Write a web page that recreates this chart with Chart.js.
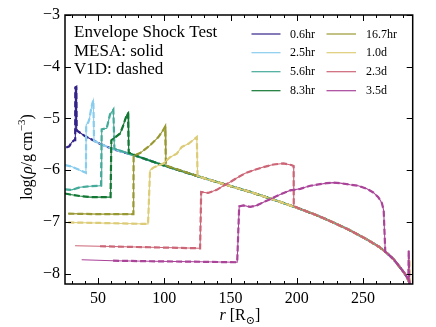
<!DOCTYPE html>
<html>
<head>
<meta charset="utf-8">
<script src="https://cdn.jsdelivr.net/npm/chart.js@4.4.1/dist/chart.umd.min.js"></script>
<style>
  html, body { margin: 0; padding: 0; background: #ffffff; }
  #c { display: block; }
</style>
</head>
<body>
<canvas id="c" width="436" height="327"></canvas>
<script>
// ---------------- DATA ----------------
const SERIES_LABELS = ["0.6hr", "2.5hr", "5.6hr", "8.3hr", "16.7hr", "1.0d", "2.3d", "3.5d"];
const SERIES_COLORS = ["#332288", "#88CCEE", "#44AA99", "#117733", "#999933", "#DDCC77", "#CC6677", "#AA4499"];

// undisturbed envelope (shared outer profile)
const BG_R = [33, 40, 51.4, 62, 73, 81.7, 101, 127, 145, 164.8, 185, 202.6, 215, 227.5, 240, 253, 262, 268, 273, 278, 281, 283, 284.5, 285.5];
const BG_L = [-5.25, -5.34, -5.49, -5.60, -5.68, -5.75, -5.92, -6.13, -6.27, -6.42, -6.59, -6.75, -6.87, -7.01, -7.16, -7.34, -7.48, -7.60, -7.72, -7.88, -7.98, -8.06, -8.14, -8.22];

// inner (disturbed) part of each snapshot
const R_06H = [26, 28.2, 30.1, 32.0, 32.7, 32.8, 33.5, 33.8];
const L_06H = [-5.56, -5.54, -5.46, -5.42, -5.42, -4.40, -4.39, -5.23];

const R_25H = [25, 30, 33.8, 37, 40.8, 41.0, 42.5, 43.5, 44.5, 45.5, 46.4, 46.9];
const L_25H = [-5.90, -5.93, -5.97, -6.01, -6.05, -5.12, -5.08, -5.00, -4.85, -4.72, -4.65, -5.43];

const R_56H = [25, 30.1, 36.3, 43.9, 52.2, 52.7, 56.5, 59.0, 61.5, 62.3];
const L_56H = [-6.37, -6.38, -6.33, -6.31, -6.30, -5.21, -5.19, -4.92, -4.83, -5.58];

const R_83H = [25, 28.8, 36.3, 43.9, 52.7, 59.4, 60.0, 61.5, 64.1, 66.6, 68.8, 70.3, 71.8, 72.6, 73.1];
const L_83H = [-6.45, -6.47, -6.50, -6.52, -6.52, -6.52, -5.42, -5.39, -5.34, -5.29, -5.15, -5.03, -4.92, -4.90, -5.66];

const R_167H = [27.5, 51.4, 76.6, 76.8, 81.7, 89.2, 95.5, 99.0, 100.6, 101.2];
const L_167H = [-6.84, -6.85, -6.85, -5.72, -5.67, -5.52, -5.36, -5.23, -5.16, -5.91];

const R_10D = [27.5, 51.4, 87.7, 89.2, 91.7, 95.5, 99.3, 104.3, 109.4, 113.2, 118.2, 124.5, 125.1];
const L_10D = [-7.01, -7.02, -7.04, -6.00, -5.95, -5.91, -5.87, -5.75, -5.68, -5.55, -5.49, -5.36, -6.11];

const R_23D = [32.6, 51.4, 89.2, 127.0, 127.8, 133.0, 139.6, 144.6, 149.7, 154.7, 161.0, 167.3, 174.8, 182.4, 189.9, 195.8, 197.6, 197.7];
const L_23D = [-7.46, -7.47, -7.49, -7.51, -6.42, -6.44, -6.38, -6.30, -6.23, -6.15, -6.06, -6.00, -5.94, -5.89, -5.87, -5.90, -5.92, -6.69];

const R_35D = [37.6, 61.3, 89.2, 127.0, 155.0, 156.5, 159.7, 164.8, 169.8, 174.8, 179.9, 187.4, 195.0, 202.6, 210.1, 215.2, 222.7, 227.7, 232.8, 240.3, 246.4, 252.9, 257.7, 261.5, 264.3, 265.6, 266.8];
const L_35D = [-7.73, -7.75, -7.76, -7.77, -7.78, -6.70, -6.68, -6.71, -6.68, -6.62, -6.56, -6.47, -6.39, -6.36, -6.30, -6.28, -6.25, -6.24, -6.25, -6.28, -6.30, -6.36, -6.43, -6.52, -6.64, -6.78, -7.58];

// small spikes at the surface
const SPIKE_35D_R = [284.2, 284.5, 284.8, 285.5];
const SPIKE_35D_L = [-8.10, -7.55, -8.12, -8.22];
const SPIKE_10D_R = [284.8, 285.1, 285.5];
const SPIKE_10D_L = [-8.12, -7.72, -8.22];

// where the V1D (dashed) curves begin, r in Rsun
const V1D_START = [0, 0, 0, 0, 0, 0, 51.4, 61.3];

const X_TICKS = [50, 100, 150, 200, 250];
const X_MINOR = [30, 40, 60, 70, 80, 90, 110, 120, 130, 140, 160, 170, 180, 190, 210, 220, 230, 240, 260, 270, 280];
const Y_TICKS = [-8, -7, -6, -5, -4, -3];
const X_MIN = 25, X_MAX = 287.5, Y_MIN = -8.2, Y_MAX = -3;

// ---------------- build point lists ----------------
function pts(R, L) { return R.map((r, i) => ({ x: r, y: L[i] })); }
function withBg(R, L, spikeR, spikeL) {
  const own = pts(R, L);
  const last = R[R.length - 1];
  let bg = pts(BG_R, BG_L).filter(p => p.x > last);
  if (spikeR) {
    bg = bg.filter(p => p.x < spikeR[0]).concat(pts(spikeR, spikeL));
  }
  return own.concat(bg);
}
const SERIES_POINTS = [
  withBg(R_06H, L_06H),
  withBg(R_25H, L_25H),
  withBg(R_56H, L_56H),
  withBg(R_83H, L_83H),
  withBg(R_167H, L_167H),
  withBg(R_10D, L_10D, SPIKE_10D_R, SPIKE_10D_L),
  withBg(R_23D, L_23D),
  withBg(R_35D, L_35D, SPIKE_35D_R, SPIKE_35D_L)
];

const datasets = [];
SERIES_POINTS.forEach((p, i) => {
  datasets.push({
    label: SERIES_LABELS[i] + " MESA", data: p, showLine: true, pointRadius: 0,
    borderColor: SERIES_COLORS[i], borderWidth: 1.1, tension: 0, order: 100 - 2 * i
  });
  datasets.push({
    label: SERIES_LABELS[i] + " V1D", data: p.filter(q => q.x >= V1D_START[i]), showLine: true, pointRadius: 0,
    borderColor: SERIES_COLORS[i], borderWidth: 2.2, borderDash: [6, 3], tension: 0, order: 99 - 2 * i
  });
});

const SERIF = "'Liberation Serif', 'DejaVu Serif', serif";

const decorPlugin = {
  id: 'decor',
  afterDraw(chart) {
    const ctx = chart.ctx;
    const a = chart.chartArea;
    const xs = chart.scales.x, ys = chart.scales.y;
    ctx.save();
    ctx.strokeStyle = '#000';
    // ticks (inward)
    ctx.lineWidth = 1;
    ctx.beginPath();
    X_TICKS.forEach(v => {
      const px = Math.round(xs.getPixelForValue(v)) + 0.5;
      ctx.moveTo(px, a.bottom); ctx.lineTo(px, a.bottom - 6);
      ctx.moveTo(px, a.top); ctx.lineTo(px, a.top + 6);
    });
    X_MINOR.forEach(v => {
      const px = Math.round(xs.getPixelForValue(v)) + 0.5;
      ctx.moveTo(px, a.bottom); ctx.lineTo(px, a.bottom - 3);
      ctx.moveTo(px, a.top); ctx.lineTo(px, a.top + 3);
    });
    Y_TICKS.forEach(v => {
      const py = Math.round(ys.getPixelForValue(v)) + 0.5;
      ctx.moveTo(a.left, py); ctx.lineTo(a.left + 6, py);
      ctx.moveTo(a.right, py); ctx.lineTo(a.right - 6, py);
    });
    ctx.stroke();
    // frame
    ctx.lineWidth = 1.5;
    ctx.strokeRect(a.left, a.top, a.right - a.left, a.bottom - a.top);

    // annotation text
    ctx.fillStyle = '#000';
    ctx.textBaseline = 'middle';
    ctx.textAlign = 'left';
    ctx.font = '17px ' + SERIF;
    ctx.fillText('Envelope Shock Test', 74, 33);
    ctx.fillText('MESA: solid', 74, 51.5);
    ctx.fillText('V1D: dashed', 74, 70);

    // legend
    const rows = [34, 52.7, 71.7, 90.7];
    ctx.font = '12px ' + SERIF;
    SERIES_LABELS.forEach((lab, i) => {
      const col = i < 4 ? 0 : 1;
      const y = rows[i % 4];
      const x0 = col ? 326.5 : 251.5, x1 = col ? 356 : 280.5, tx = col ? 366 : 290;
      ctx.strokeStyle = SERIES_COLORS[i];
      ctx.lineWidth = 1.2;
      ctx.beginPath(); ctx.moveTo(x0, y); ctx.lineTo(x1, y); ctx.stroke();
      ctx.fillStyle = '#000';
      ctx.fillText(lab, tx, y + 0.5);
    });

    // x title: r [R_sun]
    ctx.textBaseline = 'alphabetic';
    const xc = (a.left + a.right) / 2 + 1;
    const parts = [
      { t: 'r', f: 'italic 16px ' + SERIF, dy: 0 },
      { t: ' [R', f: '16px ' + SERIF, dy: 0 },
      { t: '\u2299', f: '11px ' + SERIF, dy: 4 },
      { t: ']', f: '16px ' + SERIF, dy: 0 }
    ];
    let w = 0;
    parts.forEach(p => { ctx.font = p.f; w += ctx.measureText(p.t).width; });
    let x = xc - w / 2;
    parts.forEach(p => { ctx.font = p.f; ctx.fillText(p.t, x, 320 + p.dy); x += ctx.measureText(p.t).width; });

    // y title: log(rho/g cm^-3)
    ctx.save();
    ctx.translate(32, 157);
    ctx.rotate(-Math.PI / 2);
    const yparts = [
      { t: 'log(', f: '16px ' + SERIF, dy: 0 },
      { t: '\u03C1', f: 'italic 16px ' + SERIF, dy: 0 },
      { t: '/g\u2009cm', f: '16px ' + SERIF, dy: 0 },
      { t: '\u22123', f: '11px ' + SERIF, dy: -7 },
      { t: ')', f: '16px ' + SERIF, dy: 0 }
    ];
    w = 0;
    yparts.forEach(p => { ctx.font = p.f; w += ctx.measureText(p.t).width; });
    x = -w / 2;
    yparts.forEach(p => { ctx.font = p.f; ctx.fillText(p.t, x, p.dy); x += ctx.measureText(p.t).width; });
    ctx.restore();

    ctx.restore();
  }
};

new Chart(document.getElementById('c'), {
  type: 'scatter',
  data: { datasets },
  options: {
    responsive: false,
    animation: false,
    devicePixelRatio: 1,
    layout: { padding: { left: 0, right: 23.3, top: 15, bottom: 0 } },
    plugins: { legend: { display: false }, tooltip: { enabled: false } },
    scales: {
      x: {
        type: 'linear', min: X_MIN, max: X_MAX,
        grid: { display: false, drawTicks: false },
        border: { display: false },
        afterBuildTicks: s => { s.ticks = X_TICKS.map(v => ({ value: v })); },
        afterFit: s => { s.height = 43; },
        ticks: { color: '#000', padding: 5, maxRotation: 0, font: { family: SERIF, size: 16 },
                 callback: v => String(v) }
      },
      y: {
        type: 'linear', min: Y_MIN, max: Y_MAX,
        grid: { display: false, drawTicks: false },
        border: { display: false },
        afterBuildTicks: s => { s.ticks = Y_TICKS.map(v => ({ value: v })); },
        afterFit: s => { s.width = 65; },
        ticks: { color: '#000', padding: 5, font: { family: SERIF, size: 16 },
                 callback: v => (v < 0 ? '\u2212' + Math.abs(v) : String(v)) }
      }
    }
  },
  plugins: [decorPlugin]
});
</script>
</body>
</html>
